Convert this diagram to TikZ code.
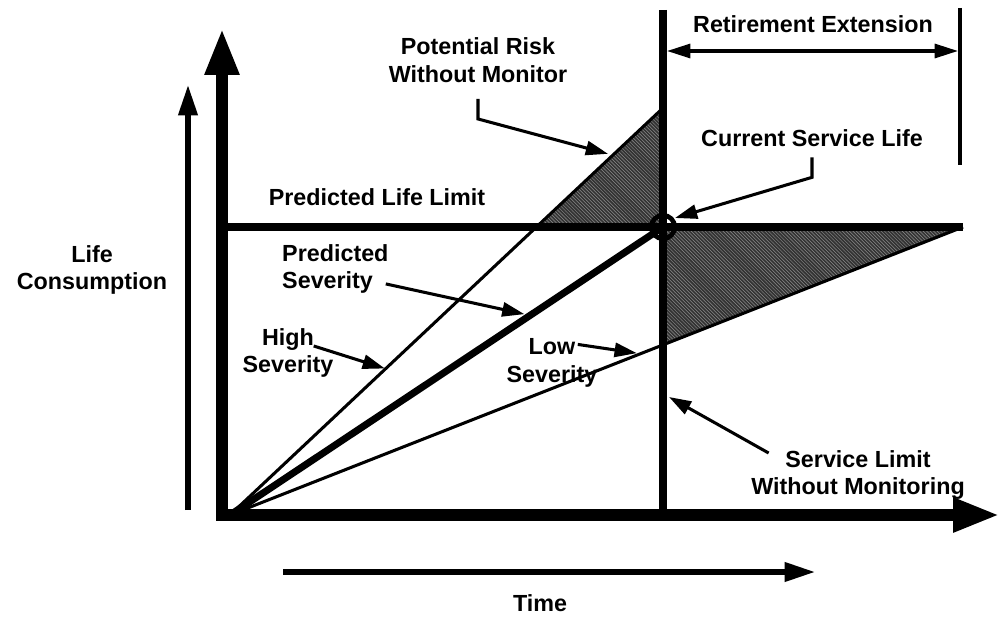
\documentclass[tikz,border=0pt]{standalone}
\usepackage{fontspec}
\setmainfont{Liberation Sans}
\usepackage{tikz}
\usetikzlibrary{arrows.meta, patterns, calc}

\begin{document}
\begin{tikzpicture}[x=0.03cm, y=-0.03cm,
%
    lbl/.style={font=\bfseries\fontsize{19.9}{23.5}\selectfont, inner sep=0pt, align=center},
    Axis/.style={line width=10pt, line cap=rect, -{Triangle[length=40pt, width=27pt]}},
    SmallAxis/.style={line width=4.3pt, -{Triangle[length=26pt, width=16pt]}},
    Arr/.style={line width=2.6pt, -{Triangle[length=19pt, width=12pt]}},
    DArr/.style={line width=2.6pt, {Triangle[length=20pt, width=12pt]}-{Triangle[length=20pt, width=12pt]}},
    sevline/.style={line width=2.6pt},
    riskfill/.style={fill=black!80, postaction={pattern=north west lines, pattern color=black!45}},
                        ]
    \useasboundingbox (0,0) rectangle (1003,619);

    \coordinate (origin)      at (230,515);
    \coordinate (ytop)        at (222,28);
    \coordinate (xend)        at (1000,515);
    \coordinate (now_top)     at (663,10);
    \coordinate (now_bot)     at (663,515);
    \coordinate (limit_left)  at (222,227);
    \coordinate (limit_right) at (963,227);
    \coordinate (now_pt)      at (663,227);
    \coordinate (high_end)    at (663,108);
    \coordinate (ext_top)     at (960,8);
    \coordinate (ext_bot)     at (960,165);
    \coordinate (ret_left)    at (667,51);
    \coordinate (ret_right)   at (958,51);
    \coordinate (cons_bot)    at (188,510);
    \coordinate (cons_top)    at (188,85);
    \coordinate (time_left)   at (283,572);
    \coordinate (time_right)  at (815,572);

    % shaded regions
    \fill[riskfill] (intersection of origin--high_end and limit_left--limit_right) -- (high_end) -- (now_pt) -- cycle;
    \fill[riskfill] (now_pt) -- (limit_right) -- (intersection of origin--limit_right and now_top--now_bot) -- cycle;

    % severity lines
    \draw[sevline] (origin) -- (high_end);
    \draw[sevline] (origin) -- (limit_right);
    \draw[line width=6pt] (origin) -- (now_pt);

    \draw[line width=6.8pt] (limit_left) -- (limit_right);
    \draw[line width=6pt] (now_top) -- (now_bot);
    \draw[sevline] (ext_top) -- (ext_bot);
    \draw[line width=4pt] (now_pt) circle[radius=10pt];

    \draw[Axis] (222,515) -- (ytop);
    \draw[Axis] (222,515) -- (xend);
    \draw[SmallAxis] (cons_bot) -- (cons_top);
    \draw[SmallAxis] (time_left) -- (time_right);
    \draw[DArr] (ret_left) -- (ret_right);

    \node[lbl] (ret_node)   at (813,24)  {Retirement Extension};
    \node[lbl] (risk_node)  at (478,60)  {Potential Risk\\Without Monitor};
    \node[lbl] (life_node)  at (812,138) {Current Service Life};
    \node[lbl] (limit_node) at (377,197) {Predicted Life Limit};
    \node[lbl, anchor=west, align=left]  (pred_node) at (282,269) {Predicted\\Severity};
    \node[lbl] (high_node)  at (288,353) {High\\Severity};
    \node[lbl] (low_node)   at (552,363) {Low\\Severity};
    \node[lbl] (cons_node)  at (92,270)  {Life\\Consumption};
    \node[lbl] (svc_node)   at (858,475) {Service Limit\\Without Monitoring};
    \node[lbl] (time_node)  at (540,603) {Time};

    \coordinate (risk_tip) at ($(origin)!0.88!(high_end)+(-3,-3)$);
    \coordinate (life_tip) at ($(now_pt)+(12,-9)$);
    \coordinate (pred_tip) at ($(origin)!0.68!(now_pt)+(0,-5)$);
    \coordinate (high_tip) at ($(origin)!0.36!(high_end)+(-1,0)$);
    \coordinate (low_tip)  at ($(origin)!0.555!(limit_right)+(0,-2)$);
    \coordinate (svc_tip)  at ($(now_bot)+(6,-118)$);

    \draw[Arr] ([yshift=-14pt]risk_node.south) -- ++(0,20) -- (risk_tip);
    \draw[Arr] ([yshift=-9pt]life_node.south) -- ++(0,20) -- (life_tip);
    \draw[Arr] ([shift={(-2.5pt,8.5pt)}]pred_node.south east) -- (pred_tip);
    \draw[Arr] ([shift={(-17pt,6pt)}]high_node.east) -- (high_tip);
    \draw[Arr] ([shift={(22pt,-5pt)}]low_node.north) -- (low_tip);
    \draw[Arr] ([shift={(15pt,-2.5pt)}]svc_node.north west) -- (svc_tip);

\end{tikzpicture}
\end{document}
